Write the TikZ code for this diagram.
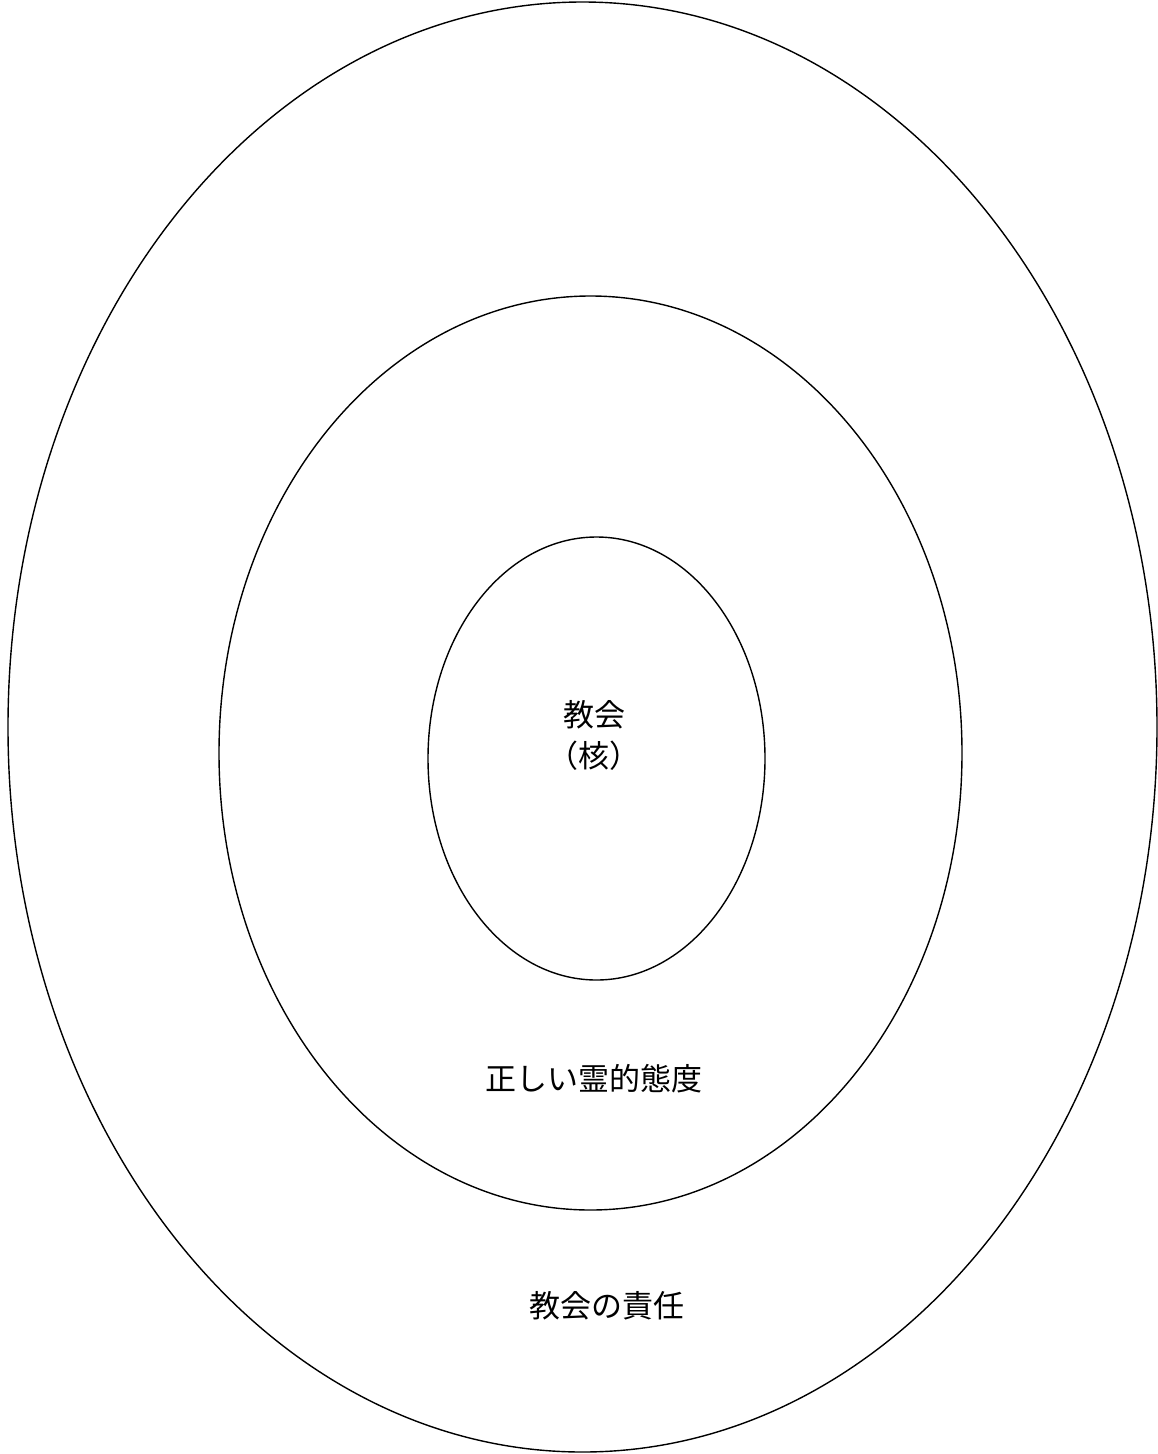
\documentclass[tikz,border=0pt]{standalone}
\usepackage{fontspec}
\newfontfamily\cjk{Noto Sans CJK JP}
\usetikzlibrary{shapes.geometric}
\begin{document}
\begin{tikzpicture}[x=1pt,y=-1pt,
  ring/.style={draw=black, line width=1.4pt, ellipse, inner sep=0pt},
  lbl/.style={font=\cjk\fontsize{31}{41}\selectfont, align=center, inner sep=0pt}]
\useasboundingbox (0,0) rectangle (1158,1454);
\node[ring, minimum width=1149pt, minimum height=1450pt] (outer) at (582.5,727) {};
\node[ring, minimum width=743pt, minimum height=914pt] (middle) at (590.5,753) {};
\node[ring, minimum width=337pt, minimum height=443pt] (inner) at (596.5,758.5) {};
\node[lbl] (core) at (594,735) {教会\\（核）};
\node[lbl] (attitude) at (594,1079) {正しい霊的態度};
\node[lbl] (resp) at (607,1306) {教会の責任};
\end{tikzpicture}
\end{document}
